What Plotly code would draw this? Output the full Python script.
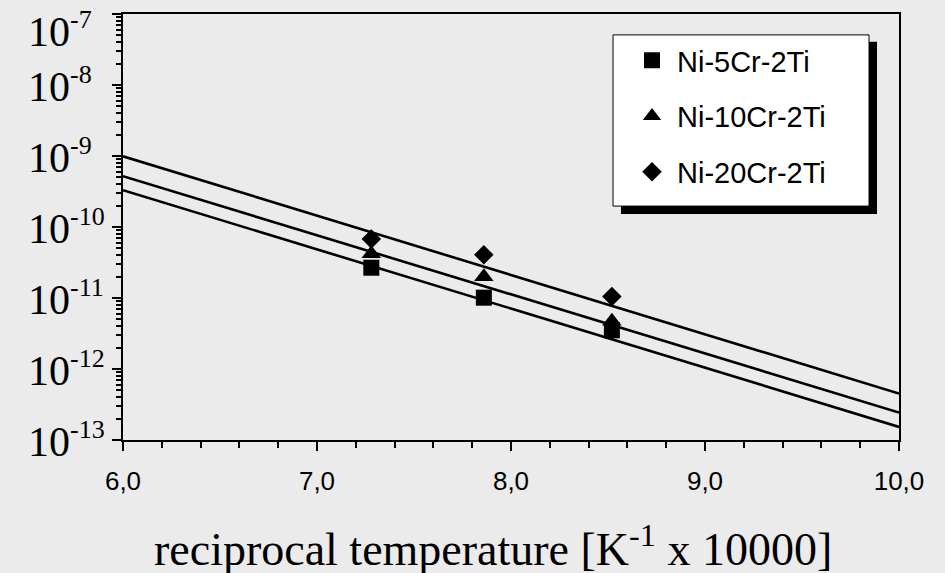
import math
import plotly.graph_objects as go

# ---- data ----
series_names = ["Ni-5Cr-2Ti", "Ni-10Cr-2Ti", "Ni-20Cr-2Ti"]
recip_temp = [7.28, 7.86, 8.52]
ni5_vals = [2.67e-11, 1.01e-11, 3.5e-12]
ni10_vals = [4.2e-11, 2.0e-11, 4.7e-12]
ni20_vals = [6.8e-11, 4.06e-11, 1.05e-11]

fit_x = [6.0, 10.0]
fit_ni5 = [3.3e-10, 1.53e-13]
fit_ni10 = [5.2e-10, 2.43e-13]
fit_ni20 = [9.9e-10, 4.5e-13]

x_tickvals = [6, 7, 8, 9, 10]
x_ticktext = ["6,0", "7,0", "8,0", "9,0", "10,0"]
y_tickvals = [1e-7, 1e-8, 1e-9, 1e-10, 1e-11, 1e-12, 1e-13]
y_exponents = ["-7", "-8", "-9", "-10", "-11", "-12", "-13"]

BG = "#ebebeb"
symbols = ["square", "triangle-up", "diamond"]
sizes = [16, 17, 15]
point_sets = [ni5_vals, ni10_vals, ni20_vals]
fit_sets = [fit_ni5, fit_ni10, fit_ni20]

# page has an 8px body margin; figure sized to fit the window
W, H = 937, 565
ML, MR, MT, MB = 115, 46, 4, 133
PW = W - ML - MR
PH = H - MT - MB


def px(page_x):
    return (page_x - 8 - ML) / PW


def py(page_y):
    return 1 - (page_y - 8 - MT) / PH


fig = go.Figure()

for fv in fit_sets:
    fig.add_trace(go.Scatter(x=fit_x, y=fv, mode="lines",
                             line=dict(color="black", width=2.6),
                             showlegend=False, hoverinfo="skip"))

for name, vals, sym, sz in zip(series_names, point_sets, symbols, sizes):
    fig.add_trace(go.Scatter(x=recip_temp, y=vals, mode="markers", name=name,
                             legendgroup=name,
                             marker=dict(symbol=sym, size=sz, color="black",
                                         line=dict(width=0))))

axis_common = dict(showgrid=False, zeroline=False)

fig.update_layout(
    width=W, height=H,
    margin=dict(l=ML, r=MR, t=MT, b=MB),
    paper_bgcolor=BG, plot_bgcolor=BG,
    showlegend=True,
    legend=dict(x=px(627), y=py(33), xanchor="left", yanchor="top",
                bgcolor="rgba(0,0,0,0)", borderwidth=0, itemwidth=40,
                font=dict(family="Liberation Sans", size=29, color="black"),
                tracegroupgap=15),
    xaxis=dict(**axis_common, range=[6, 10], tickvals=x_tickvals, ticktext=x_ticktext,
               ticks="outside", ticklen=9, tickwidth=1.5, tickcolor="black",
               minor=dict(ticks="outside", ticklen=6, dtick=0.2, tickwidth=1.5, tickcolor="black"),
               showline=True, linecolor="black", linewidth=2, mirror=True,
               tickfont=dict(family="Liberation Sans", size=26, color="black"),
               ticklabelstandoff=8),
    yaxis=dict(**axis_common, type="log", range=[-13, -7], dtick=1,
               ticks="outside", ticklen=9, tickwidth=1.5, tickcolor="black",
               minor=dict(ticks="outside", ticklen=5, dtick="D1", tickwidth=1.5, tickcolor="black"),
               showline=True, linecolor="black", linewidth=2, mirror=True,
               showticklabels=False),
    xaxis2=dict(**axis_common, overlaying="x", anchor="y", range=[6, 10],
                tickvals=x_tickvals, ticks="inside", ticklen=8, tickwidth=1.5, tickcolor="black",
                minor=dict(ticks="inside", ticklen=5, dtick=0.2, tickwidth=1.5, tickcolor="black"),
                showticklabels=False, showline=False),
    yaxis2=dict(**axis_common, overlaying="y", anchor="x", side="left", type="log",
                range=[-13, -7], dtick=1,
                ticks="inside", ticklen=8, tickwidth=1.5, tickcolor="black",
                minor=dict(ticks="inside", ticklen=4, dtick="D1", tickwidth=1.5, tickcolor="black"),
                showticklabels=False, showline=False),
)

# y tick labels as annotations (left aligned like the original)
for i, (v, e) in enumerate(zip(y_tickvals, y_exponents)):
    shift = -16 if i == 0 else 0
    fig.add_annotation(x=0, xref="paper", y=math.log10(v), yref="y",
                       xanchor="left", yanchor="middle", xshift=-97, yshift=shift,
                       text="10<sup><span style='font-size:26px'>" + e + "</span></sup>",
                       showarrow=False,
                       font=dict(family="Liberation Serif", size=42, color="black"))

# x axis title
fig.add_annotation(x=px(493), xref="paper", y=py(546), yref="paper",
                   xanchor="center", yanchor="middle",
                   text="reciprocal temperature [K<sup>-1</sup> x 10000]",
                   showarrow=False,
                   font=dict(family="Liberation Serif", size=46, color="black"))

# legend drop shadow and box
fig.add_shape(type="rect", xref="paper", yref="paper",
              x0=px(621), x1=px(877), y0=py(213), y1=py(40),
              fillcolor="black", line=dict(width=0), layer="above")
fig.add_shape(type="rect", xref="paper", yref="paper",
              x0=px(613), x1=px(869), y0=py(205), y1=py(33),
              fillcolor="white", line=dict(color="black", width=1), layer="above")

fig.write_html("out.html",
               post_script="document.body.style.background='#ebebeb';"
                           "document.documentElement.style.background='#ebebeb';")
